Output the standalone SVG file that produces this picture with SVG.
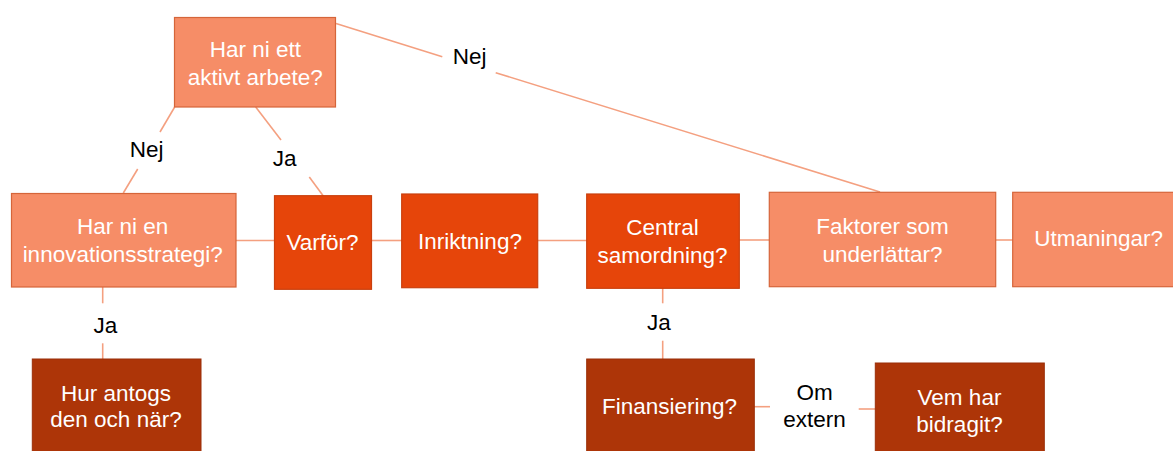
<svg xmlns="http://www.w3.org/2000/svg" width="1173" height="451" viewBox="0 0 1173 451">
<style>
text{font-family:"Liberation Sans",Arial,sans-serif;font-size:22.5px;text-anchor:middle}
.light{fill:#F68D67;stroke:#D5653A;stroke-width:1.2}
.mid{fill:#E6450A;stroke:#C9400E;stroke-width:1.2}
.dark{fill:#AD3508;stroke:#9A2F08;stroke-width:1}
.nt{fill:#FFFFFF}
.lbl{fill:#000000}
.conn line{stroke:#F4A080;stroke-width:1.6}
</style>
<rect width="1173" height="451" fill="#FFFFFF"/>
<g id="connectors" class="conn">
<line x1="174.7" y1="107" x2="160" y2="132"/>
<line x1="137.7" y1="169" x2="123.3" y2="193"/>
<line x1="255.7" y1="107" x2="281" y2="140"/>
<line x1="309.3" y1="177" x2="323.3" y2="196"/>
<line x1="336" y1="23.5" x2="442.3" y2="56.7"/>
<line x1="495.7" y1="72.7" x2="880" y2="192"/>
<line x1="236" y1="240.5" x2="274.5" y2="240.5"/>
<line x1="371.5" y1="240.5" x2="402" y2="240.5"/>
<line x1="537.7" y1="240.5" x2="587" y2="240.5"/>
<line x1="739" y1="240" x2="769.5" y2="240"/>
<line x1="995.5" y1="240" x2="1013" y2="240"/>
<line x1="102.7" y1="287" x2="102.7" y2="303.3"/>
<line x1="102.7" y1="343.3" x2="102.7" y2="359"/>
<line x1="662.7" y1="288" x2="662.7" y2="303.3"/>
<line x1="662.7" y1="340.7" x2="662.7" y2="359"/>
<line x1="754" y1="406.7" x2="770" y2="406.7"/>
<line x1="858.7" y1="409" x2="875.5" y2="409"/>
<text class="lbl" x="146.7" y="157.3">Nej</text>
<text class="lbl" x="284.7" y="165.7">Ja</text>
<text class="lbl" x="469.7" y="64.3">Nej</text>
<text class="lbl" x="105.3" y="333.3">Ja</text>
<text class="lbl" x="659" y="330">Ja</text>
<text class="lbl" x="814.5" y="400">Om</text>
<text class="lbl" x="814.5" y="427">extern</text>
</g>
<g id="n-aktivt">
<rect class="light" x="174.5" y="17.5" width="161" height="89.5"/>
<text class="nt" x="255.3" y="56.7">Har ni ett</text>
<text class="nt" x="255.3" y="85">aktivt arbete?</text>
</g>
<g id="n-strategi">
<rect class="light" x="11.5" y="193.5" width="224.5" height="93.5"/>
<text class="nt" x="122.7" y="234.3">Har ni en</text>
<text class="nt" x="122.7" y="261.7">innovationsstrategi?</text>
</g>
<g id="n-varfor">
<rect class="mid" x="274.5" y="195.7" width="97" height="93.6"/>
<text class="nt" x="322.5" y="250">Varför?</text>
</g>
<g id="n-inriktning">
<rect class="mid" x="401.7" y="194" width="136" height="93.7"/>
<text class="nt" x="470" y="249.3">Inriktning?</text>
</g>
<g id="n-central">
<rect class="mid" x="586.7" y="194" width="152.6" height="94.3"/>
<text class="nt" x="662.5" y="235">Central</text>
<text class="nt" x="662.5" y="262.7">samordning?</text>
</g>
<g id="n-faktorer">
<rect class="light" x="769.3" y="192.3" width="226.4" height="94.4"/>
<text class="nt" x="882.5" y="234">Faktorer som</text>
<text class="nt" x="882.5" y="261.7">underlättar?</text>
</g>
<g id="n-utmaningar">
<rect class="light" x="1012.7" y="192.3" width="175" height="94.4"/>
<text class="nt" x="1098.7" y="245.7">Utmaningar?</text>
</g>
<g id="n-hur">
<rect class="dark" x="32.3" y="359" width="168.7" height="100"/>
<text class="nt" x="116" y="400.5">Hur antogs</text>
<text class="nt" x="116" y="426.5">den och när?</text>
</g>
<g id="n-finansiering">
<rect class="dark" x="586.7" y="359" width="167.6" height="100"/>
<text class="nt" x="669.5" y="414">Finansiering?</text>
</g>
<g id="n-vem">
<rect class="dark" x="875.3" y="363" width="169" height="96"/>
<text class="nt" x="959.5" y="405">Vem har</text>
<text class="nt" x="959.5" y="431.7">bidragit?</text>
</g>
</svg>
